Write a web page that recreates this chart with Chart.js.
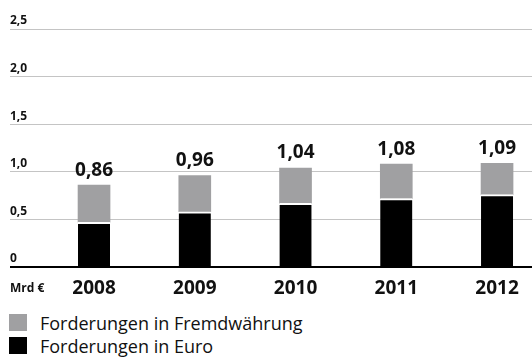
<!DOCTYPE html>
<html lang="de">
<head>
    <meta charset="UTF-8">
    <title>Forderungen</title>
    <style>
        body {
            margin: 0;
            background: #fff;
            font-family: "Open Sans", sans-serif;
        }
        #wrap {
            position: relative;
            width: 532px;
            height: 358px;
        }
        #chart-box {
            position: absolute;
            left: 0;
            top: 0;
            width: 532px;
            height: 302px;
        }
        #legend {
            position: absolute;
            left: 9px;
            top: 311px;
        }
        .leg-row {
            display: flex;
            align-items: center;
            height: 23px;
            font-size: 18px;
            color: #111;
        }
        .leg-box {
            width: 18px;
            height: 17px;
            margin-right: 13px;
        }
    </style>
    <script src="https://cdn.jsdelivr.net/npm/chart.js"></script>
</head>
<body>
<div id="wrap">
    <div id="chart-box"><canvas id="chart"></canvas></div>
    <div id="legend"></div>
</div>
<script>
    // Daten
    const years = ['2008', '2009', '2010', '2011', '2012'];
    const euro = [0.47, 0.58, 0.67, 0.72, 0.76];
    const fremd = [0.39, 0.38, 0.37, 0.36, 0.33];
    const yTicks = [0, 0.5, 1.0, 1.5, 2.0, 2.5];

    const grey = '#a0a0a2';
    const totals = euro.map((v, i) => Math.round((v + fremd[i]) * 100) / 100);

    // Summen über den Balken + Einheit links
    const labelPlugin = {
        id: 'labels',
        afterDatasetsDraw(chart) {
            const ctx = chart.ctx;
            const xs = chart.scales.x, ys = chart.scales.y;
            ctx.save();
            ctx.fillStyle = '#111';
            ctx.textAlign = 'center';
            ctx.textBaseline = 'middle';
            ctx.font = 'bold 19px "Open Sans"';
            totals.forEach((t, i) => {
                const txt = t.toLocaleString('de-DE', { minimumFractionDigits: 2 });
                ctx.fillText(txt, xs.getPixelForValue(i), ys.getPixelForValue(t) - 15);
            });
            ctx.textAlign = 'left';
            ctx.font = 'bold 12px "Open Sans"';
            ctx.fillText('Mrd €', 10, ys.bottom + 22);
            ctx.restore();
        }
    };

    new Chart(document.getElementById('chart'), {
        type: 'bar',
        data: {
            datasets: [{
                label: 'Forderungen in Euro',
                data: euro.map((v, i) => ({ x: i, y: v })),
                backgroundColor: '#000',
                borderColor: '#fff',
                borderWidth: { top: 2, left: 0, right: 0, bottom: 0 },
                borderSkipped: false,
                barThickness: 32
            }, {
                label: 'Forderungen in Fremdwährung',
                data: fremd.map((v, i) => ({ x: i, y: v })),
                backgroundColor: grey,
                borderWidth: 0,
                barThickness: 32
            }]
        },
        options: {
            responsive: true,
            maintainAspectRatio: false,
            animation: false,
            layout: { padding: { left: 10, right: 0, top: 29, bottom: 0 } },
            plugins: {
                legend: { display: false },
                tooltip: { enabled: false }
            },
            scales: {
                x: {
                    type: 'linear',
                    stacked: true,
                    offset: false,
                    min: -0.834,
                    max: 4.347,
                    afterBuildTicks: axis => { axis.ticks = years.map((_, i) => ({ value: i })); },
                    afterFit: axis => { axis.height = 35; },
                    grid: { display: false, drawTicks: false },
                    border: { display: false },
                    ticks: {
                        autoSkip: false,
                        maxRotation: 0,
                        padding: 10,
                        color: '#111',
                        font: { family: 'Open Sans', size: 19, weight: 'bold' },
                        callback: v => years[v]
                    }
                },
                y: {
                    stacked: true,
                    min: 0,
                    max: 2.5,
                    afterBuildTicks: axis => { axis.ticks = yTicks.map(v => ({ value: v })); },
                    grid: {
                        drawTicks: false,
                        color: c => c.tick.value === 0 ? '#000' : '#c4c4c4',
                        lineWidth: c => c.tick.value === 0 ? 2 : 1
                    },
                    border: { display: false },
                    ticks: {
                        mirror: true,
                        padding: 0,
                        labelOffset: -8,
                        color: '#111',
                        font: { family: 'Open Sans', size: 12, weight: 'bold' },
                        callback: v => v === 0 ? '0' : v.toLocaleString('de-DE', { minimumFractionDigits: 1 })
                    }
                }
            }
        },
        plugins: [labelPlugin]
    });

    // Legende (Fremdwährung oben)
    const legend = document.getElementById('legend');
    [['Forderungen in Fremdwährung', grey], ['Forderungen in Euro', '#000']].forEach(([name, col]) => {
        const row = document.createElement('div');
        row.className = 'leg-row';
        const box = document.createElement('div');
        box.className = 'leg-box';
        box.style.background = col;
        row.appendChild(box);
        row.appendChild(document.createTextNode(name));
        legend.appendChild(row);
    });
</script>
</body>
</html>
